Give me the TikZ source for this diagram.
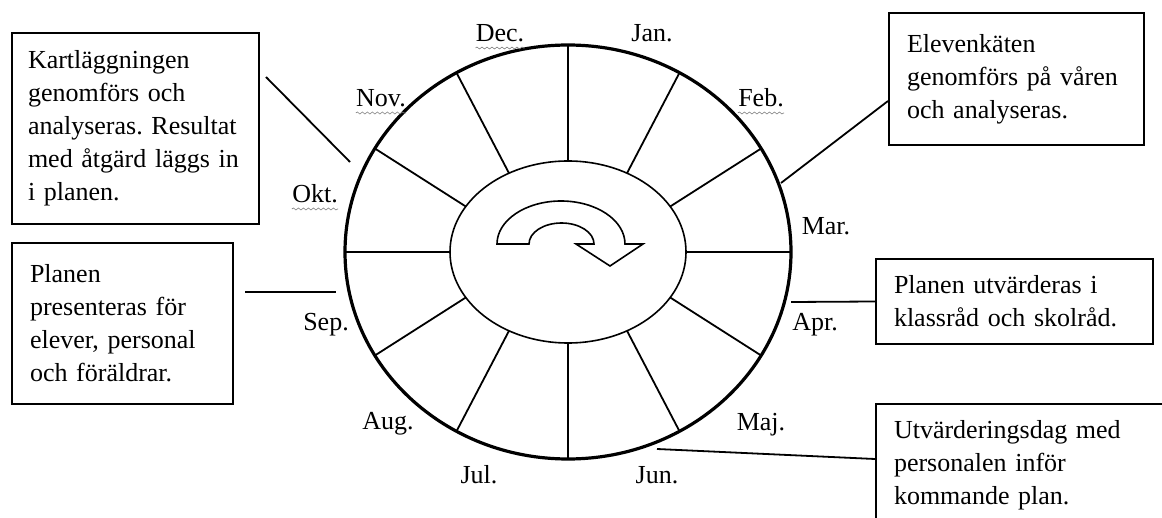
\documentclass[tikz,border=0pt]{standalone}
\usepackage{fontspec}
\setmainfont{Liberation Serif}
\usetikzlibrary{decorations.pathmorphing}
\frenchspacing

\begin{document}
\begin{tikzpicture}[x=0.5pt, y=-0.5pt,
    month/.style={inner sep=0pt, anchor=base, font=\fontsize{13}{16.5}\selectfont},
    infobox/.style={draw, line width=1pt, anchor=north west, align=left,
        inner xsep=9pt, font=\fontsize{13}{16.5}\selectfont},
    connector/.style={line width=0.9pt},
    squiggle/.style={gray, line width=0.3pt, decorate,
        decoration={snake, amplitude=0.5pt, segment length=2.5pt}}]
    % ramen
    \path[use as bounding box] (0,0) rectangle (1162,518);
    \clip (0,0) rectangle (1162,518);

    % årshjulet
    \begin{scope}[shift={(568,252)}]
        \foreach \a in {30,60,120,150,210,240,300,330}
            \draw[line width=0.9pt] (\a:59pt and 45.5pt) -- (\a:111.5pt and 103.5pt);
        \foreach \a in {0,90,180,270}
            \draw[line width=1.3pt] (\a:59pt and 45.5pt) -- (\a:111.5pt and 103.5pt);
        \draw[line width=0.8pt] (0,0) ellipse [x radius=59pt, y radius=45.5pt]; % navet
        \draw[line width=1.6pt] (0,0) ellipse [x radius=111.5pt, y radius=103.5pt]; % ytterring
    \end{scope}

    % pilen i mitten
    \draw[line width=0.8pt, line join=miter] (497,244)
        arc[start angle=180, end angle=0, x radius=32pt, y radius=21.5pt]
        -- (643,244) -- (610,266) -- (576,244) -- (594,244)
        arc[start angle=0, end angle=180, x radius=16.25pt, y radius=10.5pt]
        -- cycle;

    % månader
    \node[month] (dec) at (500,42) {Dec.};
    \node[month] (jan) at (652,42) {Jan.};
    \node[month] (feb) at (761,107) {Feb.};
    \node[month] (mar) at (826,235) {Mar.};
    \node[month] (apr) at (815,330) {Apr.};
    \node[month] (maj) at (761,430) {Maj.};
    \node[month] (jun) at (657,483) {Jun.};
    \node[month] (jul) at (479,483) {Jul.};
    \node[month] (aug) at (388,429) {Aug.};
    \node[month] (sep) at (326,330) {Sep.};
    \node[month] (okt) at (315,203) {Okt.};
    \node[month] (nov) at (381,107) {Nov.};
    \foreach \m in {dec,nov,okt,feb}
        \draw[squiggle] ([yshift=-3pt]\m.base west) -- ([yshift=-3pt]\m.base east);

    % rutorna
    \node[infobox, inner xsep=8pt, text width=107.5pt, minimum height=95.5pt] (kart) at (11,32)
        {Kartläggningen\\genomförs och\\analyseras. Resultat\\med åtgärd läggs in\\i planen.};
    \node[infobox, text width=109.5pt, minimum height=66pt] (elev) at (888,12)
        {Elevenkäten\\genomförs på våren\\och analyseras.};
    \node[infobox, text width=92.5pt, minimum height=80.5pt] (pres) at (11,242)
        {Planen\\presenteras för\\elever, personal\\och föräldrar.};
    \node[infobox, text width=120.5pt, minimum height=42.5pt] (utv) at (875,258)
        {Planen utvärderas i\\klassråd och skolråd.};
    \node[infobox, text width=130pt, inner ysep=8pt, text depth=80pt] (dag) at (875,403)
        {Utvärderingsdag med\\personalen inför\\kommande plan.};

    % linjer
    \coordinate (kart-a) at (266,77);
    \coordinate (kart-b) at (350,162);
    \coordinate (feb-pt) at (781,183);
    \coordinate (pres-a) at (245,292);
    \coordinate (pres-b) at (336,292);
    \coordinate (apr-pt) at (791,302);
    \coordinate (jun-pt) at (657,449);
    \draw[connector] (kart-a) -- (kart-b);
    \draw[connector] (feb-pt) -- ([yshift=-11pt]elev.west);
    \draw[connector] (pres-a) -- (pres-b);
    \draw[connector] (apr-pt) -- (utv.west);
    \draw[connector] (jun-pt) -- ([yshift=-28pt]dag.north west);
\end{tikzpicture}
\end{document}
